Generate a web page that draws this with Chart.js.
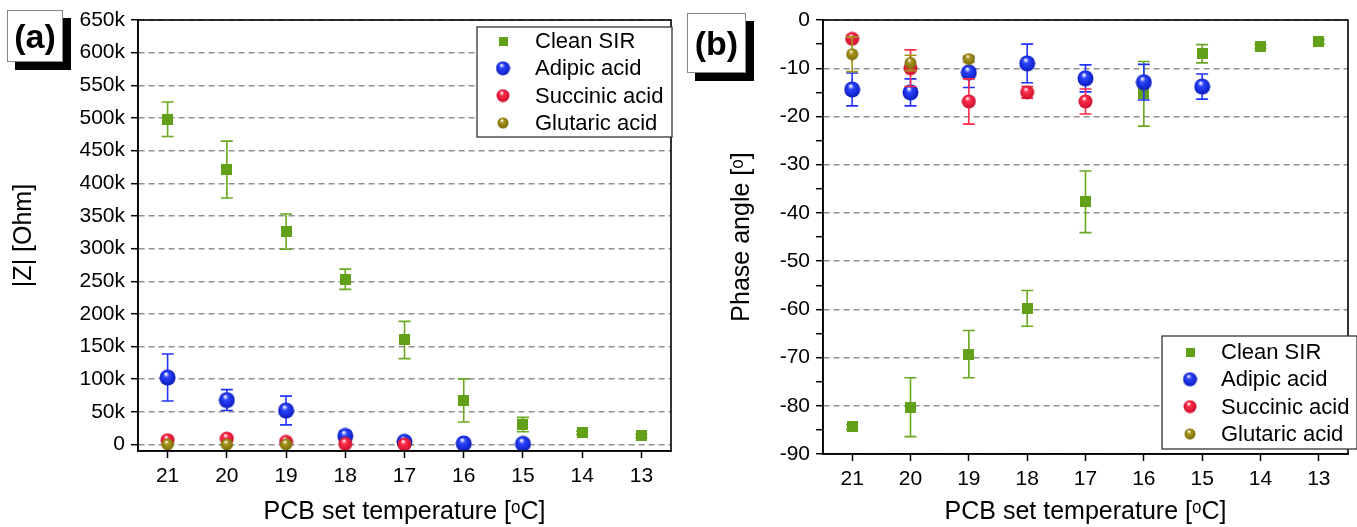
<!DOCTYPE html>
<html>
<head>
<meta charset="utf-8">
<title>|Z| and phase angle vs PCB temperature</title>
<script src="https://cdn.jsdelivr.net/npm/chart.js@4.4.0/dist/chart.umd.min.js"></script>
<style>
    body { margin: 0; background: #fff; font-family: Arial, "Liberation Sans", sans-serif; }
    #wrap { position: relative; width: 1357px; height: 527px; overflow: hidden; }
    .panel { position: absolute; top: 0; height: 527px; }
    .tag {
        position: absolute; background: #fff; border: 1px solid #888;
        box-shadow: 8px 8px 0 #000; font-weight: bold; font-size: 34px;
        display: flex; align-items: center; justify-content: center; color: #000;
    }
</style>
</head>
<body>
<div id="wrap">
    <div class="panel" style="left:0;width:680px"><canvas id="chartA" width="680" height="527"></canvas></div>
    <div class="panel" style="left:680px;width:677px"><canvas id="chartB" width="677" height="527"></canvas></div>
    <div class="tag" style="left:7px;top:10px;width:54px;height:50px">(a)</div>
    <div class="tag" style="left:687px;top:13px;width:57px;height:58px">(b)</div>
</div>
<script>
// --- data ---
const temps = ['21', '20', '19', '18', '17', '16', '15', '14', '13'];
const seriesNames = ['Clean SIR', 'Adipic acid', 'Succinic acid', 'Glutaric acid'];

// (a) |Z| in Ohm, with +/- error
const zClean       = [498000, 421000, 326000, 253000, 160000, 67500, 30500, 18000, 13000];
const zCleanErr    = [26500, 43500, 27000, 15500, 28500, 33000, 11000, 2500, 2500];
const zAdipic      = [102500, 68000, 52000, 13000, 4000, 1500, 1000, null, null];
const zAdipicErr   = [36000, 16000, 22000, 7500, 3000, 1500, 1500, null, null];
const zSuccinic    = [6500, 9000, 4000, 1000, 0, null, null, null, null];
const zSuccinicErr = [2000, 2000, 2000, 1000, 1000, null, null, null, null];
const zGlutaric    = [0, 0, 0, null, null, null, null, null, null];
const zGlutaricErr = [1500, 1500, 1500, null, null, null, null, null, null];

// (b) phase angle in degrees, with +/- error
const pClean       = [-84.4, -80.3, -69.3, -59.8, -37.7, -15.3, -7.0, -5.5, -4.5];
const pCleanErr    = [0.5, 6.1, 4.9, 3.7, 6.4, 6.7, 1.9, 0.4, 0.4];
const pAdipic      = [-14.4, -15.0, -10.9, -9.0, -12.1, -12.9, -13.8, null, null];
const pAdipicErr   = [3.4, 2.8, 3.1, 4.0, 2.8, 3.7, 2.6, null, null];
const pSuccinic    = [-3.9, -10.0, -16.9, -15.0, -16.9, null, null, null, null];
const pSuccinicErr = [0.5, 3.8, 4.7, 1.2, 2.6, null, null, null, null];
const pGlutaric    = [-7.1, -8.9, -8.1, null, null, null, null, null, null];
const pGlutaricErr = [3.6, 1.6, 0.6, null, null, null, null, null, null];

// axis ranges: [min, max], first/last tick, step
const zTicks = { min: -10000, max: 650000, first: 0, last: 650000, step: 50000 };
const pTicks = { min: -90, max: 0, first: -90, last: 0, step: 5 };

Chart.defaults.font.family = 'Arial, "Liberation Sans", sans-serif';
Chart.defaults.color = '#000';

// marker images
function sphere(base, dark, d) {
    const c = document.createElement('canvas');
    c.width = d; c.height = d;
    const g = c.getContext('2d');
    const r = d / 2;
    const grad = g.createRadialGradient(r * 0.8, r * 0.55, r * 0.05, r, r, r);
    grad.addColorStop(0, '#ffffff');
    grad.addColorStop(0.3, base);
    grad.addColorStop(1, dark);
    g.fillStyle = grad;
    g.beginPath(); g.arc(r, r, r - 0.5, 0, Math.PI * 2); g.fill();
    return c;
}
function square(color, s) {
    const c = document.createElement('canvas');
    c.width = s; c.height = s;
    const g = c.getContext('2d');
    g.fillStyle = color;
    g.fillRect(0, 0, s, s);
    return c;
}

const styles = [
    { bar: '#6aa820', mark: square('#63a01a', 11), legend: square('#63a01a', 9) },
    { bar: '#2233ff', mark: sphere('#2a44ff', '#0a1ab8', 17), legend: sphere('#2a44ff', '#0a1ab8', 15) },
    { bar: '#ff2a48', mark: sphere('#ff2c4a', '#c60f2c', 15), legend: sphere('#ff2c4a', '#c60f2c', 14) },
    { bar: '#a59418', mark: sphere('#a8961c', '#776808', 13), legend: sphere('#a8961c', '#776808', 12) }
];

function makeSets(values, errors) {
    return values.map((v, i) => ({
        label: seriesNames[i],
        data: v,
        errors: errors[i],
        errorColor: styles[i].bar,
        legendMarker: styles[i].legend,
        showLine: false,
        pointStyle: styles[i].mark,
        pointRadius: 8,
        order: values.length - i
    }));
}

// error bars, drawn just under each dataset's markers
const errorBars = {
    id: 'errorBars',
    beforeDatasetDraw(chart, args) {
        const ds = chart.data.datasets[args.index];
        if (!ds.errors) return;
        const y = chart.scales.y;
        const ctx = chart.ctx;
        ctx.save();
        ctx.strokeStyle = ds.errorColor;
        ctx.lineWidth = 1.6;
        args.meta.data.forEach((pt, i) => {
            const v = ds.data[i], e = ds.errors[i];
            if (v == null || e == null) return;
            const top = y.getPixelForValue(v + e);
            const bot = y.getPixelForValue(v - e);
            ctx.beginPath();
            ctx.moveTo(pt.x, top); ctx.lineTo(pt.x, bot);
            ctx.moveTo(pt.x - 6, top); ctx.lineTo(pt.x + 6, top);
            ctx.moveTo(pt.x - 6, bot); ctx.lineTo(pt.x + 6, bot);
            ctx.stroke();
        });
        ctx.restore();
    }
};

// frame around the plot + legend box
const frameAndLegend = {
    id: 'frameAndLegend',
    afterDraw(chart, args, opts) {
        const ctx = chart.ctx;
        const a = chart.chartArea;
        ctx.save();
        ctx.strokeStyle = '#000';
        ctx.lineWidth = 1.6;
        ctx.strokeRect(a.left, a.top, a.right - a.left, a.bottom - a.top);

        ctx.fillStyle = '#fff';
        ctx.fillRect(opts.x, opts.y, opts.w, opts.h);
        ctx.strokeStyle = '#333';
        ctx.lineWidth = 1.3;
        ctx.strokeRect(opts.x, opts.y, opts.w, opts.h);
        ctx.font = '22px Arial, "Liberation Sans", sans-serif';
        ctx.textBaseline = 'middle';
        ctx.fillStyle = '#000';
        chart.data.datasets.forEach((ds, i) => {
            const cy = opts.rowY + i * opts.gap;
            const m = ds.legendMarker;
            ctx.drawImage(m, opts.markerX - m.width / 2, cy - m.height / 2);
            ctx.fillText(ds.label, opts.textX, cy + 1);
        });
        ctx.restore();
    }
};

function buildChart(id, cfg) {
    const t = cfg.ticks;
    return new Chart(document.getElementById(id), {
        type: 'line',
        data: { labels: temps, datasets: cfg.datasets },
        options: {
            responsive: false,
            animation: false,
            events: [],
            layout: { padding: cfg.padding },
            plugins: {
                legend: { display: false },
                tooltip: { enabled: false },
                frameAndLegend: cfg.legend
            },
            scales: {
                x: {
                    type: 'category',
                    offset: true,
                    grid: { drawOnChartArea: false, drawTicks: true, tickLength: 7, tickColor: '#000', tickWidth: 1.5 },
                    border: { color: '#000', width: 1.6 },
                    ticks: { font: { size: 21 }, padding: 6, color: '#000' },
                    title: { display: true, text: 'PCB set temperature [\u1D52C]', font: { size: 25 }, padding: 0, color: '#000' },
                    afterFit(scale) { scale.height = cfg.xHeight; }
                },
                y: {
                    min: t.min,
                    max: t.max,
                    grid: {
                        color: cfg.gridColor,
                        lineWidth: 1.4,
                        tickLength: 7,
                        tickColor: '#000',
                        tickWidth: 1.5,
                        tickBorderDash: []
                    },
                    border: { color: '#000', width: 1.6, dash: [6, 4] },
                    ticks: {
                        autoSkip: false,
                        font: { size: 21 },
                        padding: 6,
                        color: '#000',
                        callback: cfg.tickLabel
                    },
                    afterBuildTicks(scale) {
                        const list = [];
                        for (let v = t.first; v <= t.last; v += t.step) list.push({ value: v });
                        scale.ticks = list;
                    },
                    title: { display: true, text: cfg.yTitle, font: { size: 25 }, padding: { top: cfg.yTitlePad, bottom: 0 }, color: '#000' },
                    afterFit(scale) { scale.width = cfg.yWidth; }
                }
            }
        },
        plugins: [errorBars, frameAndLegend]
    });
}

// --- (a) |Z| ---
buildChart('chartA', {
    datasets: makeSets([zClean, zAdipic, zSuccinic, zGlutaric], [zCleanErr, zAdipicErr, zSuccinicErr, zGlutaricErr]),
    padding: { top: 20, right: 3, bottom: 0, left: 0 },
    xHeight: 76,
    yWidth: 138,
    yTitle: '|Z| [Ohm]',
    yTitlePad: 9,
    ticks: zTicks,
    gridColor: '#909090',
    tickLabel: v => (v === 0 ? '0' : (v / 1000) + 'k'),
    legend: { x: 477, y: 27, w: 195, h: 110, markerX: 503, textX: 535, rowY: 41, gap: 27.3 }
});

// --- (b) phase angle ---
buildChart('chartB', {
    datasets: makeSets([pClean, pAdipic, pSuccinic, pGlutaric], [pCleanErr, pAdipicErr, pSuccinicErr, pGlutaricErr]),
    padding: { top: 20, right: 2, bottom: 0, left: 0 },
    xHeight: 73,
    yWidth: 143,
    yTitle: 'Phase angle [\u1D52]',
    yTitlePad: 47,
    ticks: pTicks,
    gridColor: ctx => (ctx.tick && ctx.tick.value % 10 === 0 ? '#909090' : 'rgba(0,0,0,0)'),
    tickLabel: v => (v % 10 === 0 ? String(v) : ''),
    legend: { x: 482, y: 336, w: 195, h: 113, markerX: 510, textX: 541, rowY: 352, gap: 27.3 }
});
</script>
</body>
</html>
